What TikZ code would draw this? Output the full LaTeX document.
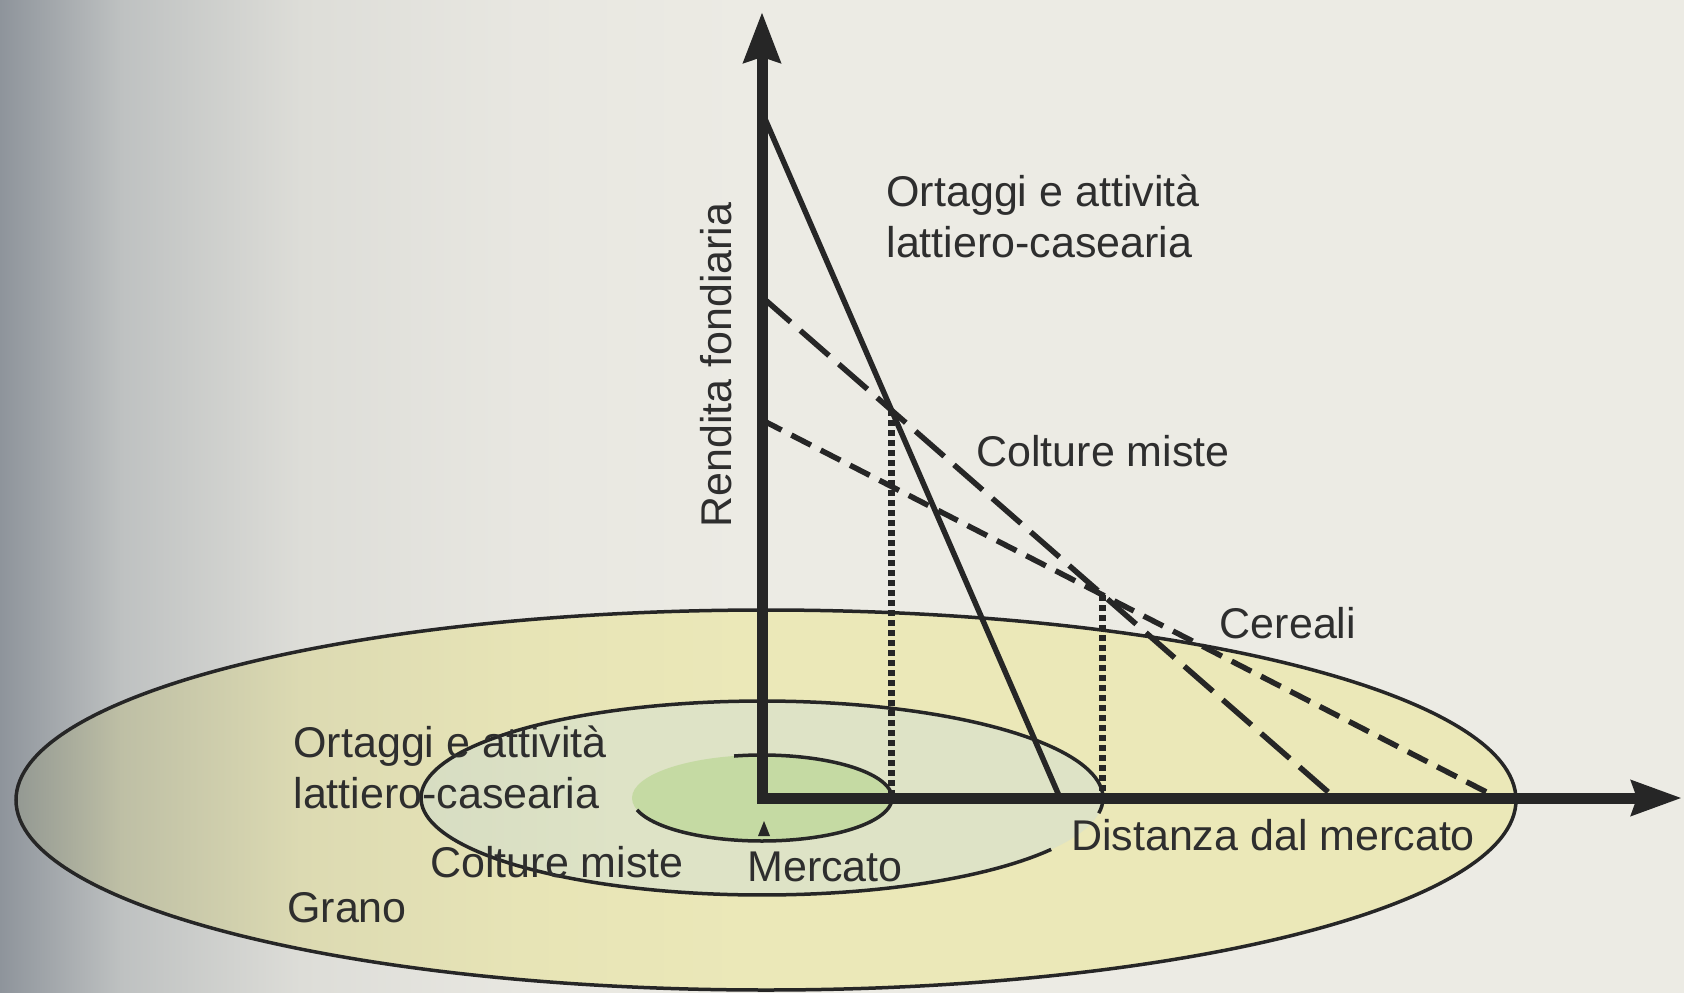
\documentclass[tikz,border=0pt]{standalone}
\usepackage{fontspec}
\setmainfont{Liberation Sans}
\usetikzlibrary{arrows.meta,calc}
\definecolor{bg}{HTML}{ECEBE4}
\definecolor{bgA}{HTML}{8E949B}
\definecolor{bgB}{HTML}{BEC1C1}
\definecolor{bgC}{HTML}{DDDDD8}
\definecolor{bgD}{HTML}{E8E7E1}
\definecolor{outerc}{HTML}{EBE8B8}
\definecolor{elA}{HTML}{8D9390}
\definecolor{elB}{HTML}{BEBFA5}
\definecolor{elC}{HTML}{DCDAB2}
\definecolor{elD}{HTML}{E7E4B6}
\definecolor{midc}{HTML}{DEE3C6}
\definecolor{midA}{HTML}{D7DDC2}
\definecolor{innc}{HTML}{C5DAA3}
\definecolor{ink}{HTML}{262626}
\definecolor{txt}{HTML}{2E2E2E}
\begin{document}
\begin{tikzpicture}[x=1pt,y=-1pt,
  lbl/.style={font=\fontsize{43}{51}\selectfont, text=txt, inner sep=0pt},
  axisline/.style={line width=11pt, draw=ink, line join=miter,
    arrows={Stealth[length=50pt,width=36pt,inset=5pt]-Stealth[length=50pt,width=34pt,inset=5pt]}},
  solidrent/.style={line width=5.5pt, draw=ink},
  longdash/.style={line width=5.5pt, draw=ink, dash pattern=on 38pt off 13pt},
  shortdash/.style={line width=5.5pt, draw=ink, dash pattern=on 22pt off 11pt},
  dotline/.style={line width=7pt, draw=ink, dash pattern=on 6pt off 4pt},
  ringline/.style={line width=3.5pt, draw=ink}
]
\useasboundingbox (0,0) rectangle (1684,993);
% background with grey fade on the left
\fill[bg] (0,0) rectangle (1684,993);
\shade[left color=bgA, right color=bgB] (0,0) rectangle (121,993);
\shade[left color=bgB, right color=bgC] (120,0) rectangle (301,993);
\shade[left color=bgC, right color=bgD] (300,0) rectangle (521,993);
\shade[left color=bgD, right color=bg] (520,0) rectangle (750,993);
% outer zone (Grano)
\begin{scope}
  \clip (766,800) ellipse [x radius=750pt, y radius=190pt];
  \fill[outerc] (0,600) rectangle (1684,993);
  \shade[left color=elA, right color=elB] (0,600) rectangle (121,993);
  \shade[left color=elB, right color=elC] (120,600) rectangle (301,993);
  \shade[left color=elC, right color=elD] (300,600) rectangle (521,993);
  \shade[left color=elD, right color=outerc] (520,600) rectangle (750,993);
\end{scope}
% middle zone
\begin{scope}
  \clip (762,798) ellipse [x radius=341pt, y radius=97pt];
  \fill[midc] (400,690) rectangle (1120,910);
  \shade[left color=midA, right color=midc] (420,690) rectangle (620,910);
\end{scope}
% inner zone
\fill[innc] (762,798) ellipse [x radius=130pt, y radius=43pt];
% zone outlines
\draw[ringline] (766,800) ellipse [x radius=750pt, y radius=190pt];
\draw[ringline] plot[domain=32:369, samples=160, variable=\t] ({762+341*cos(\t)}, {798+97*sin(\t)});
\draw[ringline] plot[domain=257.6:524, samples=120, variable=\t] ({762+130*cos(\t)}, {798+43*sin(\t)});
% coordinates
\coordinate (O) at (762,798);
\coordinate (ytip) at (762,12);
\coordinate (xtip) at (1682,798);
\coordinate (a1) at (762,112);
\coordinate (b1) at (1060,798);
\coordinate (a2) at (762,297);
\coordinate (b2) at (1335,798);
\coordinate (a3) at (762,420);
\coordinate (b3) at (1498,798);
\coordinate (p1) at (intersection of a1--b1 and a2--b2);
\coordinate (p2) at (intersection of a2--b2 and a3--b3);
% rent lines
\draw[solidrent] (a1) -- (b1);
\draw[longdash] (a2) -- (b2);
\draw[shortdash] (a3) -- (b3);
\draw[dotline] (p1) -- (p1 |- O);
\draw[dotline] (p2) -- (p2 |- O);
% axes
\draw[axisline] (ytip) -- (O) -- (xtip);
% market tick
\fill[ink] (764,821) -- (770,836) -- (758,836) -- cycle;
% labels
\node[lbl, rotate=90] (rendita) at (716,365) {Rendita fondiaria};
\node[lbl, align=left] (ortaggiT) at (1043,216) {Ortaggi e attività\\lattiero-casearia};
\node[lbl] (coltureT) at (1103,451) {Colture miste};
\node[lbl] (cereali) at (1288,623) {Cereali};
\node[lbl] (distanza) at (1273,835) {Distanza dal mercato};
\node[lbl] (mercato) at (825,867) {Mercato};
\node[lbl, align=left] (ortaggiB) at (450,767) {Ortaggi e attività\\lattiero-casearia};
\node[lbl] (coltureB) at (557,862) {Colture miste};
\node[lbl] (grano) at (347,908) {Grano};
\end{tikzpicture}
\end{document}
